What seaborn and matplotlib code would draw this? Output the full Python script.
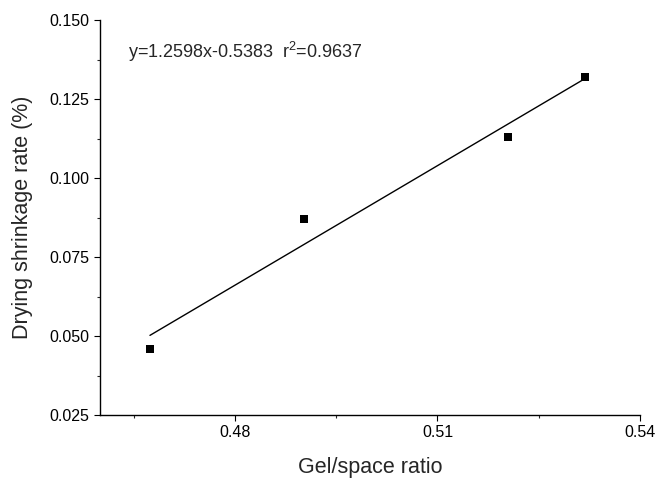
import numpy as np
import pandas as pd
import matplotlib
matplotlib.use('Agg')
import matplotlib.pyplot as plt
import seaborn as sns
from matplotlib.ticker import MultipleLocator, FormatStrFormatter

# datos
gel_space = [0.4674, 0.4902, 0.5204, 0.5319]
shrinkage = [0.0458, 0.0869, 0.1129, 0.1321]
equation = 'y=1.2598x-0.5383  r$^{2}$=0.9637'

data = pd.DataFrame({'gel': gel_space, 'shrink': shrinkage})

sns.set_style('ticks')
plt.rcParams['font.family'] = ['Liberation Sans', 'DejaVu Sans']
plt.rcParams['mathtext.fontset'] = 'custom'
plt.rcParams['mathtext.rm'] = 'Liberation Sans'
plt.rcParams['mathtext.it'] = 'Liberation Sans'

fig = plt.figure(figsize=(6.58, 4.79), dpi=100)
ax = fig.add_axes([0.152, 0.1336, 0.8206, 0.8246])

sns.regplot(data=data, x='gel', y='shrink', ax=ax, ci=None, truncate=True,
            marker='s', color='black',
            scatter_kws={'s': 26, 'linewidths': 0, 'alpha': 1},
            line_kws={'lw': 1.0})

ax.set_xlim(0.46, 0.54)
ax.set_ylim(0.025, 0.150)
ax.xaxis.set_major_locator(MultipleLocator(0.03))
ax.xaxis.set_minor_locator(MultipleLocator(0.015))
ax.yaxis.set_major_locator(MultipleLocator(0.025))
ax.yaxis.set_minor_locator(MultipleLocator(0.0125))
ax.xaxis.set_major_formatter(FormatStrFormatter('%.2f'))
ax.yaxis.set_major_formatter(FormatStrFormatter('%.3f'))
ax.set_xticks([0.48, 0.51, 0.54])

ax.tick_params(which='major', direction='out', length=4, width=0.8, labelsize=11.5, colors='black')
ax.tick_params(which='minor', direction='out', length=2.2, width=0.8)
sns.despine(ax=ax)
for s in ['left', 'bottom']:
    ax.spines[s].set_linewidth(1.0)
    ax.spines[s].set_color('black')

ax.set_xlabel('Gel/space ratio', fontsize=15.5, labelpad=12)
ax.set_ylabel('Drying shrinkage rate (%)', fontsize=15.5, labelpad=12)

ax.text(0.052, 0.92, equation, transform=ax.transAxes, fontsize=13, va='center', ha='left')

fig.savefig('out.png', dpi=100)
